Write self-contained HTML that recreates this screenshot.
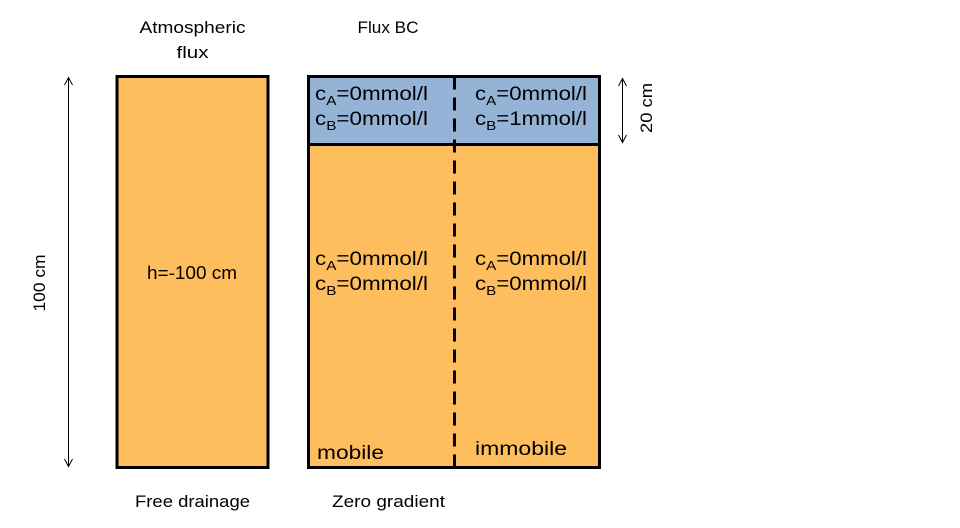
<!DOCTYPE html>
<html>
<head>
<meta charset="utf-8">
<style>
  html, body { margin: 0; padding: 0; background: #ffffff; }
  body { width: 960px; height: 528px; overflow: hidden; }
  svg { display: block; }
  text { font-family: "Liberation Sans", sans-serif; fill: #000; }
</style>
</head>
<body>
<svg width="960" height="528" viewBox="0 0 960 528" xmlns="http://www.w3.org/2000/svg">
  <!-- Top labels -->
  <text x="192.5" y="33" font-size="17" text-anchor="middle" textLength="106" lengthAdjust="spacingAndGlyphs">Atmospheric</text>
  <text x="192.5" y="58" font-size="17" text-anchor="middle" textLength="32" lengthAdjust="spacingAndGlyphs">flux</text>
  <text x="388" y="33" font-size="17" text-anchor="middle" textLength="61" lengthAdjust="spacingAndGlyphs">Flux BC</text>

  <!-- Left column -->
  <rect x="117" y="76.5" width="151" height="391" fill="#FEBE5E" stroke="#000" stroke-width="3"/>
  <text x="147" y="279" font-size="18" textLength="90" lengthAdjust="spacingAndGlyphs">h=-100 cm</text>

  <!-- Right column -->
  <rect x="308.5" y="76.5" width="291" height="68" fill="#95B3D7"/>
  <rect x="308.5" y="144.5" width="291" height="323" fill="#FEBE5E"/>
  <rect x="308.5" y="76.5" width="291" height="391" fill="none" stroke="#000" stroke-width="3"/>
  <line x1="308.5" y1="144.5" x2="599.5" y2="144.5" stroke="#000" stroke-width="3"/>
  <line x1="454.5" y1="76.5" x2="454.5" y2="467.5" stroke="#000" stroke-width="3" stroke-dasharray="13 8"/>

  <!-- Top block texts -->
  <text x="315" y="100" font-size="19" textLength="113" lengthAdjust="spacingAndGlyphs">c<tspan font-size="13" dy="5">A</tspan><tspan dy="-5">=0mmol/l</tspan></text>
  <text x="315" y="125" font-size="19" textLength="113" lengthAdjust="spacingAndGlyphs">c<tspan font-size="13" dy="5">B</tspan><tspan dy="-5">=0mmol/l</tspan></text>
  <text x="475" y="100" font-size="19" textLength="112" lengthAdjust="spacingAndGlyphs">c<tspan font-size="13" dy="5">A</tspan><tspan dy="-5">=0mmol/l</tspan></text>
  <text x="475" y="125" font-size="19" textLength="112" lengthAdjust="spacingAndGlyphs">c<tspan font-size="13" dy="5">B</tspan><tspan dy="-5">=1mmol/l</tspan></text>

  <!-- Lower block texts -->
  <text x="315" y="265" font-size="19" textLength="113" lengthAdjust="spacingAndGlyphs">c<tspan font-size="13" dy="5">A</tspan><tspan dy="-5">=0mmol/l</tspan></text>
  <text x="315" y="290" font-size="19" textLength="113" lengthAdjust="spacingAndGlyphs">c<tspan font-size="13" dy="5">B</tspan><tspan dy="-5">=0mmol/l</tspan></text>
  <text x="475" y="265" font-size="19" textLength="112" lengthAdjust="spacingAndGlyphs">c<tspan font-size="13" dy="5">A</tspan><tspan dy="-5">=0mmol/l</tspan></text>
  <text x="475" y="290" font-size="19" textLength="112" lengthAdjust="spacingAndGlyphs">c<tspan font-size="13" dy="5">B</tspan><tspan dy="-5">=0mmol/l</tspan></text>

  <text x="317" y="459" font-size="19" textLength="67" lengthAdjust="spacingAndGlyphs">mobile</text>
  <text x="475" y="455" font-size="19" textLength="92" lengthAdjust="spacingAndGlyphs">immobile</text>

  <!-- Left 100 cm arrow -->
  <line x1="68.5" y1="77" x2="68.5" y2="467" stroke="#000" stroke-width="1"/>
  <polyline points="64.5,85 68.5,77.5 72.5,85" fill="none" stroke="#000" stroke-width="1"/>
  <polyline points="64.5,459 68.5,466.5 72.5,459" fill="none" stroke="#000" stroke-width="1"/>
  <text transform="translate(45,283) rotate(-90)" font-size="17" text-anchor="middle" textLength="57" lengthAdjust="spacingAndGlyphs">100 cm</text>

  <!-- 20 cm arrow -->
  <line x1="622.5" y1="78" x2="622.5" y2="143" stroke="#000" stroke-width="1"/>
  <polyline points="618.5,86 622.5,78.5 626.5,86" fill="none" stroke="#000" stroke-width="1"/>
  <polyline points="618.5,135 622.5,142.5 626.5,135" fill="none" stroke="#000" stroke-width="1"/>
  <text transform="translate(652,108) rotate(-90)" font-size="17" text-anchor="middle" textLength="50" lengthAdjust="spacingAndGlyphs">20 cm</text>

  <!-- Bottom labels -->
  <text x="135" y="507" font-size="17" textLength="115" lengthAdjust="spacingAndGlyphs">Free drainage</text>
  <text x="332" y="507" font-size="17" textLength="113" lengthAdjust="spacingAndGlyphs">Zero gradient</text>
</svg>
</body>
</html>
